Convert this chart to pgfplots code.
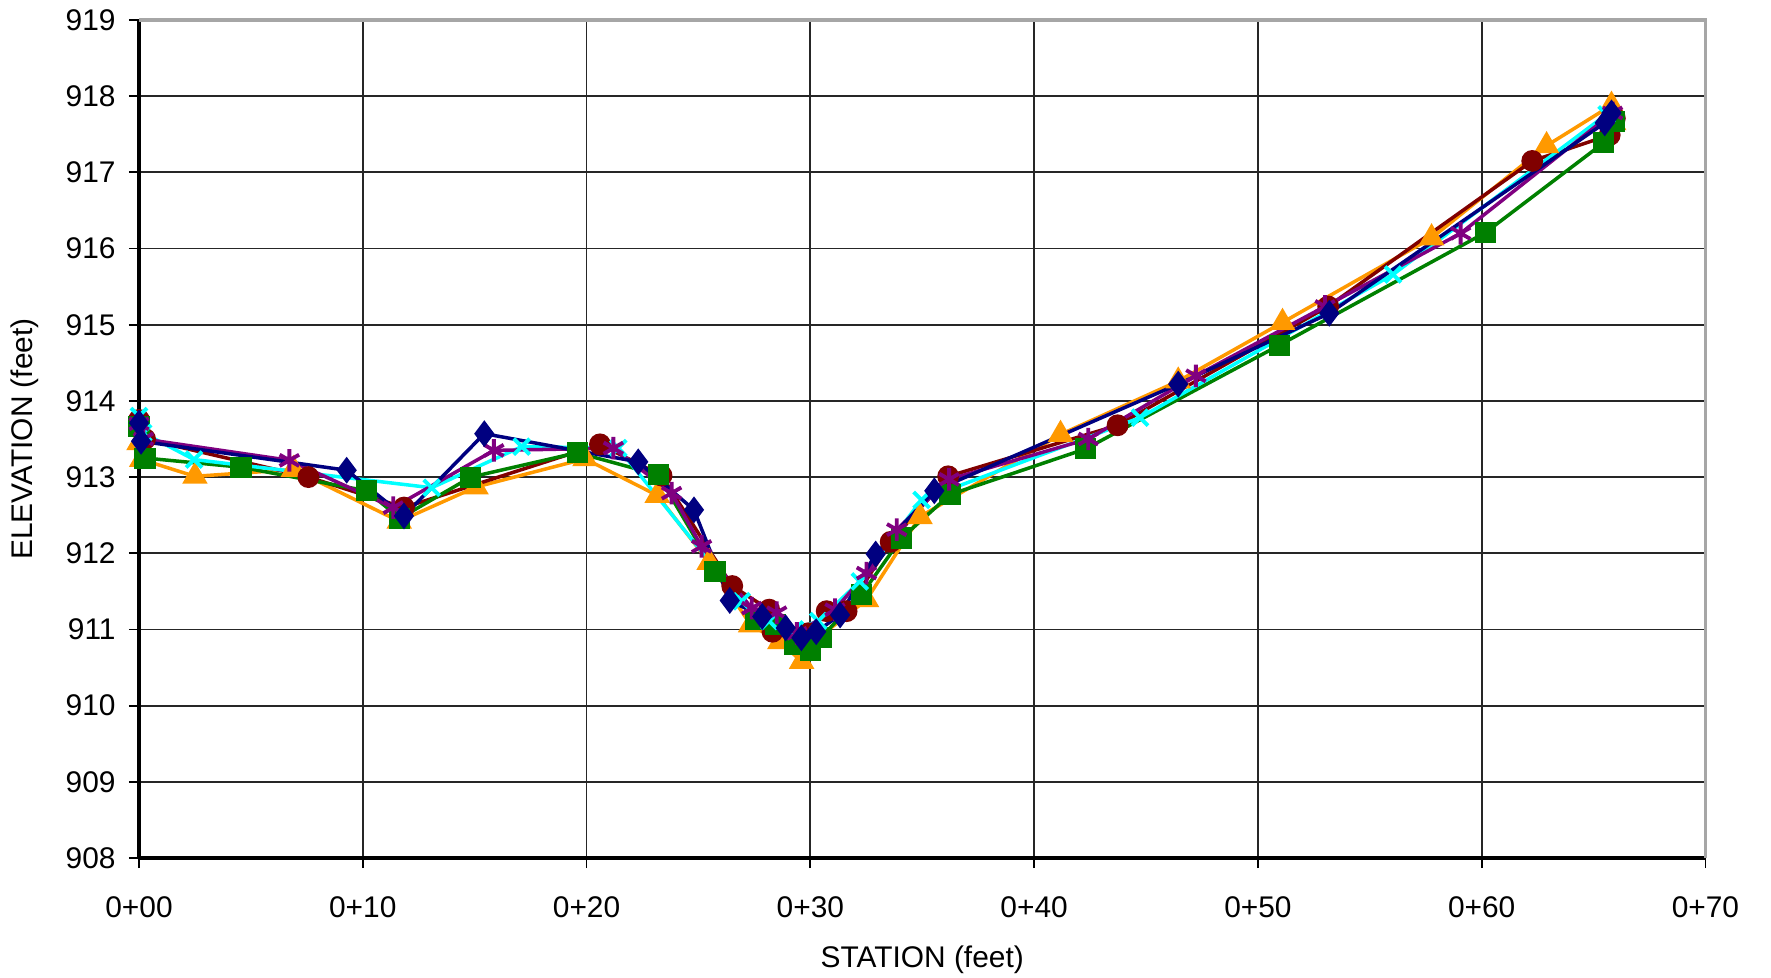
\documentclass[border=0pt]{standalone}
\usepackage{fontspec}
\setmainfont{Liberation Sans}
\usepackage{pgfplots}
\pgfplotsset{compat=1.18}
\definecolor{cnavy}{RGB}{0,0,128}
\definecolor{cmaroon}{RGB}{128,0,0}
\definecolor{corange}{RGB}{255,153,0}
\definecolor{cgreen}{RGB}{0,128,0}
\definecolor{ccyan}{RGB}{0,255,255}
\definecolor{cpurple}{RGB}{128,0,128}
\begin{document}
\begin{tikzpicture}
\useasboundingbox (-13.9mm,-12mm) rectangle (163.2mm,85.8mm);
\begin{axis}[
  at={(0,0)}, anchor=south west,
  scale only axis,
  width=156.65mm, height=83.8mm,
  xmin=0, xmax=70, ymin=908, ymax=919,
  xtick={0,10,...,70},
  xticklabels={0+00,0+10,0+20,0+30,0+40,0+50,0+60,0+70},
  ytick={908,909,...,919},
  axis lines*=left,
  tick align=outside,
  major tick length=1mm,
  tick style={black, line width=0.5pt},
  grid=major,
  major grid style={black!85, line width=0.5pt},
  axis line style={black, line width=0.9pt},
  ticklabel style={font=\fontsize{8.5}{10}\selectfont},
  xticklabel style={yshift=-1.6mm},
  yticklabel style={xshift=-0.1mm},
  /pgf/number format/assume math mode=true,
  /pgf/number format/1000 sep={},
  xlabel={STATION (feet)},
  ylabel={ELEVATION (feet)},
  label style={font=\fontsize{8.5}{10}\selectfont},
  xlabel style={at={(axis description cs:0.5,-0.1217)}, anchor=center},
  ylabel style={at={(axis description cs:-0.0728,0.5)}, anchor=center},
  clip=false,
  every axis plot/.append style={line width=1pt},
]
% top and right border in gray
\draw[gray!70, line width=0.9pt] (axis cs:0,919) -- (axis cs:70,919) -- (axis cs:70,908);

% orange triangles
\addplot[corange, mark=triangle*, mark size=3.2pt, mark options={fill=corange, draw=corange}] coordinates {
(0,913.45) (0.12,913.23) (2.5,913.01) (6.9,913.1) (11.63,912.42) (15.06,912.87)
(19.93,913.24) (23.16,912.76) (25.48,911.88) (27.33,911.06) (28.64,910.84)
(29.61,910.58) (30.4,910.9) (32.51,911.39) (34.9,912.48) (41.18,913.56)
(46.44,914.26) (51.1,915.03) (57.76,916.14) (62.9,917.35) (65.8,917.88) (65.9,917.65)
};
% maroon circles
\addplot[cmaroon, mark=*, mark size=2.6pt, mark options={fill=cmaroon, draw=cmaroon}] coordinates {
(0,913.75) (0.27,913.5) (7.57,913.0) (11.84,912.6) (20.6,913.43) (23.35,913.02)
(26.51,911.57) (28.16,911.26) (28.31,910.97) (29.9,910.95) (30.73,911.24) (31.62,911.24)
(33.59,912.15) (36.16,913.01) (43.73,913.68) (53.14,915.24) (62.26,917.15)
(65.72,917.49) (65.95,917.71)
};
% green squares
\addplot[cgreen, mark=square*, mark size=2.5pt, mark options={fill=cgreen, draw=cgreen}] coordinates {
(0,913.67) (0.27,913.25) (4.56,913.13) (10.17,912.82) (11.66,912.46) (14.83,913.0)
(19.58,913.32) (23.2,913.03) (25.74,911.76) (27.57,911.13) (28.46,911.06)
(29.31,910.8) (30.01,910.73) (30.5,910.9) (32.29,911.46) (34.08,912.2) (36.24,912.77)
(42.3,913.37) (50.95,914.73) (60.17,916.21) (65.46,917.39) (65.95,917.67)
};
% cyan crosses
\addplot[ccyan, mark=x, mark size=3.2pt, mark options={draw=ccyan, line width=1.1pt}] coordinates {
(0,913.8) (0.19,913.58) (2.46,913.23) (13.08,912.86) (17.1,913.4) (21.42,913.38)
(26.93,911.37) (28.16,911.11) (29.31,911.0) (30.35,911.11) (32.21,911.63)
(34.97,912.7) (44.73,913.78) (56.04,915.66) (65.58,917.76)
};
% purple asterisks
\addplot[cpurple, mark=asterisk, mark size=3.2pt, mark options={draw=cpurple, line width=1.1pt}] coordinates {
(0,913.7) (0.2,913.5) (6.72,913.22) (11.36,912.6) (15.86,913.35) (21.2,913.38)
(23.8,912.79) (25.14,912.09) (27.38,911.28) (28.5,911.22) (29.4,910.95)
(31.1,911.26) (32.51,911.74) (33.86,912.31) (36.2,912.97) (42.42,913.5)
(47.23,914.33) (53.0,915.24) (59.06,916.2) (65.85,917.78)
};
% navy diamonds
\addplot[cnavy, mark=diamond*, mark size=3.0pt, mark options={fill=cnavy, draw=cnavy}] coordinates {
(0,913.71) (0.09,913.47) (9.28,913.09) (11.84,912.49) (15.43,913.57) (22.31,913.2)
(24.8,912.57) (26.4,911.38) (27.85,911.17) (28.9,911.02) (29.6,910.89) (30.26,910.97)
(31.33,911.19) (32.92,911.99) (35.54,912.82) (46.44,914.22) (53.19,915.15)
(65.5,917.65) (65.8,917.78)
};
\end{axis}
\end{tikzpicture}
\end{document}
